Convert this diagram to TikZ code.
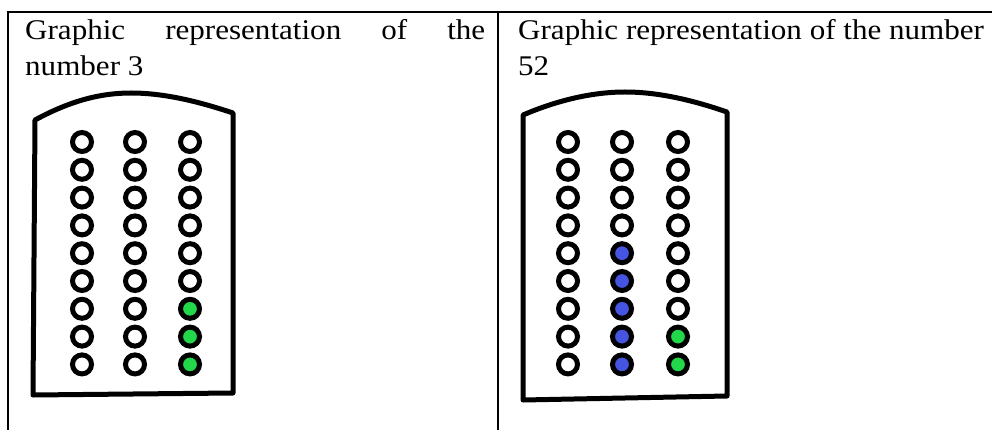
\documentclass[tikz,border=0pt]{standalone}
\usepackage{fontspec}
\setmainfont{Liberation Serif}[FakeStretch=1.09]

\definecolor{beadGreen}{RGB}{35,215,75}
\definecolor{beadBlue}{RGB}{70,85,225}

\def \rowTop{142}
\def \rowStep{27.8}
\def \colAX{82}
\def \colBX{135}
\def \colCX{190}
\def \colDX{568}
\def \colEX{622}
\def \colFX{678}

\begin{document}
\begin{tikzpicture}[x=1pt, y=-1pt,
  bead/.style={circle, draw=black, line width=5pt, fill=white, minimum size=19pt, inner sep=0pt},
  frame/.style={line width=5pt, line join=round},
  rule/.style={line width=1.6pt},
  caption/.style={anchor=north west, inner sep=0pt, font=\fontsize{28.5}{36}\selectfont}]
\useasboundingbox (0,0) rectangle (992,430);

% ---- Table rules
\draw[rule] (8,430) -- (8,12) -- (992,12);
\draw[rule] (498,12) -- (498,430);

% ---- Captions
\node[caption, text width=460pt, align=justify] (capA) at (25,19) {Graphic representation of the\linebreak number 3};
\node[caption, align=left] (capB) at (518,19) {Graphic representation of the number\\52};

% ---- Tablet 3
\draw[frame] (33,395) -- (35,120) .. controls (70,101) and (100,93) .. (131,93) .. controls (165,93) and (200,102) .. (233,113) -- (233,393) -- cycle;
\foreach \row in {1,...,9} {
  \node[bead] (a-\row) at (\colAX, {\rowTop+(\row-1)*\rowStep}) {};
  \node[bead] (b-\row) at (\colBX, {\rowTop+(\row-1)*\rowStep}) {};
}
\foreach \row in {1,...,6}
  \node[bead] (c-\row) at (\colCX, {\rowTop+(\row-1)*\rowStep}) {};
\foreach \row in {7,8,9}
  \node[bead, fill=beadGreen] (c-\row) at (\colCX, {\rowTop+(\row-1)*\rowStep}) {};

% ---- Tablet 52
\draw[frame] (523,400) -- (523,115) .. controls (558,100) and (593,92) .. (625,92) .. controls (660,92) and (695,101) .. (727,112) -- (727,396) -- cycle;
\foreach \row in {1,...,9}
  \node[bead] (d-\row) at (\colDX, {\rowTop+(\row-1)*\rowStep}) {};
\foreach \row in {1,...,4}
  \node[bead] (e-\row) at (\colEX, {\rowTop+(\row-1)*\rowStep}) {};
\foreach \row in {5,...,9}
  \node[bead, fill=beadBlue] (e-\row) at (\colEX, {\rowTop+(\row-1)*\rowStep}) {};
\foreach \row in {1,...,7}
  \node[bead] (f-\row) at (\colFX, {\rowTop+(\row-1)*\rowStep}) {};
\foreach \row in {8,9}
  \node[bead, fill=beadGreen] (f-\row) at (\colFX, {\rowTop+(\row-1)*\rowStep}) {};
\end{tikzpicture}
\end{document}
